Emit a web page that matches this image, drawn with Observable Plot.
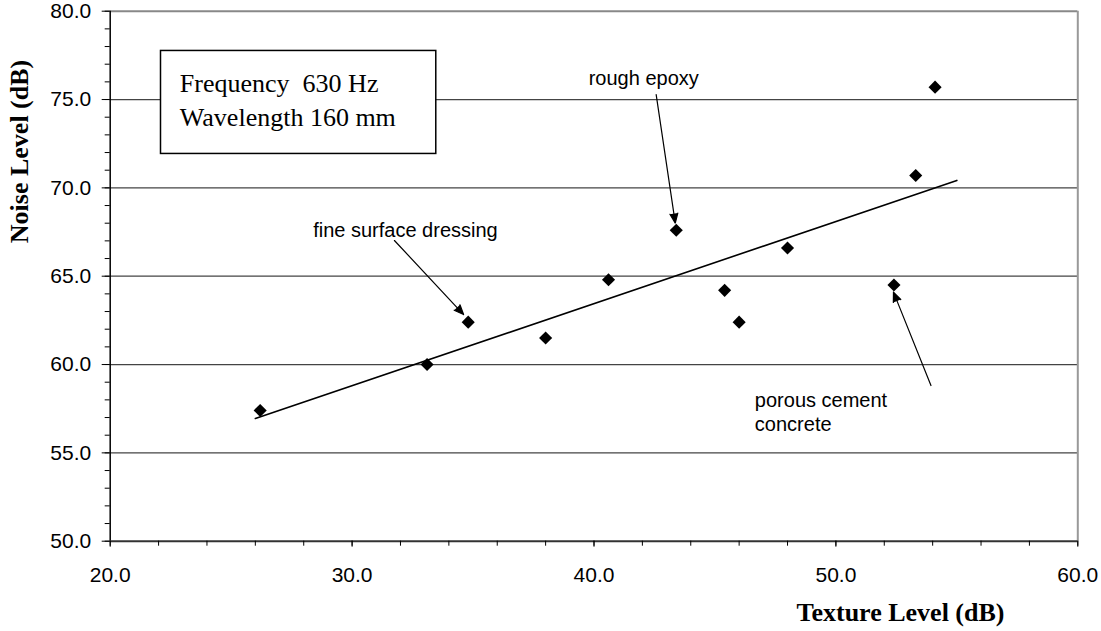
<!DOCTYPE html>
<html><head><meta charset="utf-8">
<script src="https://cdn.jsdelivr.net/npm/d3@7"></script>
<script src="https://cdn.jsdelivr.net/npm/@observablehq/plot@0.6"></script>
<style>body{margin:0;background:#fff}svg{display:block}text{white-space:pre}</style>
</head><body><div id="chart"></div>
<script>
// data
const textureLevel = [26.2, 33.1, 34.8, 38.0, 40.6, 43.4, 45.4, 46.0, 48.0, 52.4, 53.3, 54.1];
const noiseLevel   = [57.4, 60.0, 62.4, 61.5, 64.8, 67.6, 64.2, 62.4, 66.6, 64.5, 70.7, 75.7];
const trendRange = [26, 55];
const xTicks = [20, 30, 40, 50, 60];
const yTicks = [50, 55, 60, 65, 70, 75, 80];
const xMinorTicks = d3.range(20, 60.01, 2);
const yMinorTicks = d3.range(50, 80.01, 1);
const gridValues = [55, 60, 65, 70, 75];
const boxLines = ["Frequency  630 Hz", "Wavelength 160 mm"];
const boxX = [22.1, 33.48];
const boxY = [71.92, 77.75];
const boxTextX = [22.88];
const boxTextY = [75.08];
const annotationText = ["fine surface dressing", "rough epoxy", "porous cement\nconcrete"];
const annotationX = [28.39, 39.78, 46.65];
const annotationY = [67.67, 76.25, 57.36];
const arrowFromX = [31.75, 42.57, 53.93];
const arrowFromY = [67.02, 75.28, 58.81];
const arrowToX = [34.61, 43.36, 52.38];
const arrowToY = [62.83, 68.0, 64.1];

// linear trend (least squares)
const mx = d3.mean(textureLevel), my = d3.mean(noiseLevel);
const slope = d3.sum(textureLevel, (x, i) => (x - mx) * (noiseLevel[i] - my)) /
              d3.sum(textureLevel, x => (x - mx) ** 2);
const trend = trendRange.map(x => ({x, y: my + slope * (x - mx)}));

const sans = "'Liberation Sans', Arial, sans-serif";
const serif = "'Liberation Serif', 'Times New Roman', serif";
const fmt = d3.format(".1f");
const idx = d3.range(3);

const chart = Plot.plot({
  width: 1101,
  height: 631,
  marginLeft: 109.7,
  marginRight: 23.7,
  marginTop: 10.7,
  marginBottom: 90.3,
  style: {fontFamily: sans, fontSize: "21px", background: "#fff", color: "#000"},
  x: {domain: [20, 60], label: null},
  y: {domain: [50, 80], label: null},
  marks: [
    Plot.ruleY(gridValues, {stroke: "#444", strokeWidth: 1.2}),
    Plot.ruleY([80], {stroke: "#888", strokeWidth: 2}),
    Plot.ruleX([60], {stroke: "#999", strokeWidth: 2}),
    Plot.rect([0], {x1: () => boxX[0], x2: () => boxX[1], y1: () => boxY[0], y2: () => boxY[1],
      fill: "#fff", stroke: "#000", strokeWidth: 1.5}),
    Plot.text([boxLines.join("\n")], {x: () => boxTextX[0], y: () => boxTextY[0], text: d => d,
      textAnchor: "start", lineAnchor: "middle", lineHeight: 1.285,
      fontFamily: serif, fontSize: 26, fill: "#000"}),
    Plot.line(trend, {x: "x", y: "y", stroke: "#000", strokeWidth: 1.6}),
    Plot.dot(textureLevel, {x: d => d, y: (d, i) => noiseLevel[i], symbol: "diamond2",
      r: 5.9, fill: "#000", stroke: "none"}),
    Plot.arrow(idx, {x1: i => arrowFromX[i], y1: i => arrowFromY[i],
      x2: i => arrowToX[i], y2: i => arrowToY[i],
      headLength: 13, headAngle: 45, stroke: "#000", fill: "#000", strokeWidth: 1.2}),
    Plot.text(annotationText, {x: (d, i) => annotationX[i], y: (d, i) => annotationY[i], text: d => d,
      textAnchor: "start", lineAnchor: "middle", lineHeight: 1.215,
      fontFamily: sans, fontSize: 20, fill: "#000"}),
    Plot.ruleX([20], {stroke: "#000", strokeWidth: 1.5}),
    Plot.ruleY([50], {stroke: "#333", strokeWidth: 2}),
    Plot.axisY(yMinorTicks, {tickSize: 5, tickFormat: () => "", stroke: "#000", label: null}),
    Plot.axisY(yTicks, {tickSize: 8, tickPadding: 11, tickFormat: fmt, fontSize: 21,
      fontFamily: sans, stroke: "#000", fill: "#000", label: null}),
    Plot.axisX(xMinorTicks, {tickSize: 5, tickFormat: () => "", stroke: "#000", label: null}),
    Plot.axisX(xTicks, {tickSize: 6, tickPadding: 20, tickFormat: fmt, fontSize: 21,
      fontFamily: sans, stroke: "#000", fill: "#000", label: null}),
    Plot.text(["Texture Level (dB)"], {frameAnchor: "bottom", text: d => d, dx: 306.5, dy: 71,
      textAnchor: "middle", lineAnchor: "middle", fontFamily: serif, fontWeight: "bold", fontSize: 26, fill: "#000"}),
    Plot.text(["Noise Level (dB)"], {frameAnchor: "left", text: d => d, rotate: -90, dx: -91, dy: -124.7,
      textAnchor: "middle", lineAnchor: "middle", fontFamily: serif, fontWeight: "bold", fontSize: 26, fill: "#000"})
  ]
});
document.getElementById("chart").appendChild(chart);
</script>
</body></html>
